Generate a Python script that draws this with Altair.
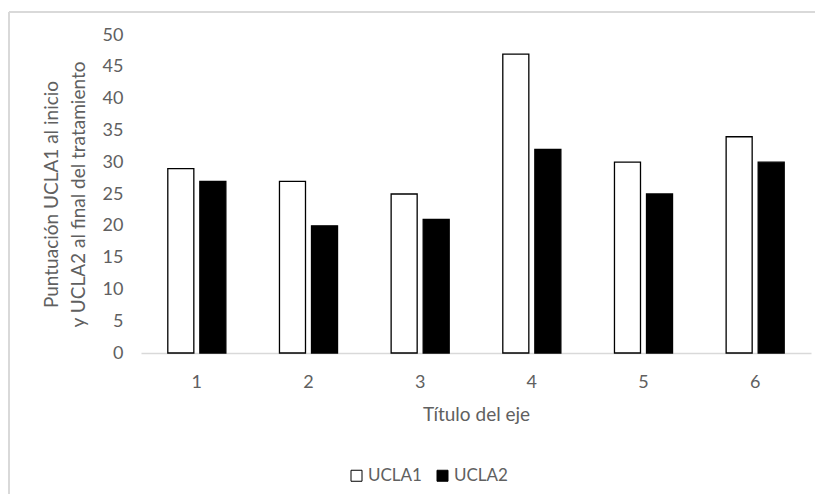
import altair as alt
import pandas as pd

categories = ["1", "2", "3", "4", "5", "6"]
ucla1 = [29, 27, 25, 47, 30, 34]
ucla2 = [27, 20, 21, 32, 25, 30]
series = ["UCLA1", "UCLA2"]

rows = []
for c, a, b in zip(categories, ucla1, ucla2):
    rows.append({"cat": c, "serie": "UCLA1", "valor": a})
    rows.append({"cat": c, "serie": "UCLA2", "valor": b})
df = pd.DataFrame(rows)

FONT = "Lato"
GRAY = "#606060"

bars = alt.Chart(df).mark_bar(stroke="#000000", strokeWidth=1.3).encode(
    x=alt.X("cat:N", sort=categories,
            scale=alt.Scale(paddingInner=0.48, paddingOuter=0.24),
            axis=alt.Axis(title="Título del eje", labelAngle=0, domainColor="#d9d9d9",
                          domainWidth=1.5, ticks=False, labelPadding=20, titlePadding=14)),
    xOffset=alt.XOffset("serie:N", sort=series,
                        scale=alt.Scale(paddingInner=0.1875, paddingOuter=0)),
    y=alt.Y("valor:Q", scale=alt.Scale(domain=[0, 50]),
            axis=alt.Axis(title=["Puntuación UCLA1 al inicio", "y UCLA2 al final del tratamiento"],
                          values=list(range(0, 51, 5)), domain=False, ticks=False, grid=False,
                          labelPadding=18, titlePadding=14, titleLineHeight=27)),
    color=alt.Color("serie:N", sort=series,
                    scale=alt.Scale(domain=series, range=["#ffffff", "#000000"]),
                    legend=alt.Legend(title=None, orient="none", direction="horizontal",
                                      legendX=207, legendY=432, symbolType="square",
                                      symbolSize=121, symbolStrokeColor="#000000",
                                      symbolStrokeWidth=1, columnPadding=12, labelOffset=3)),
)

border_src = alt.Data(values=[{"k": 1}])
left_rule = alt.Chart(border_src).mark_rule(color="#d9d9d9", strokeWidth=2).encode(
    x=alt.value(-132), y=alt.value(-23), y2=alt.value(459))
top_rule = alt.Chart(border_src).mark_rule(color="#d9d9d9", strokeWidth=2).encode(
    x=alt.value(-132), x2=alt.value(674), y=alt.value(-23))

chart = alt.layer(bars, left_rule, top_rule).properties(
    width=670, height=318,
    padding={"left": 0, "top": 3, "right": 0, "bottom": 0},
    background="#ffffff",
).configure_view(stroke=None).configure_axis(
    labelFont=FONT, titleFont=FONT, labelColor=GRAY, titleColor=GRAY,
    labelFontSize=18, titleFontSize=19, titleFontWeight="normal",
).configure_legend(
    labelFont=FONT, labelColor=GRAY, labelFontSize=17,
)

chart.save("out.html", embed_options={"renderer": "svg", "actions": False})
